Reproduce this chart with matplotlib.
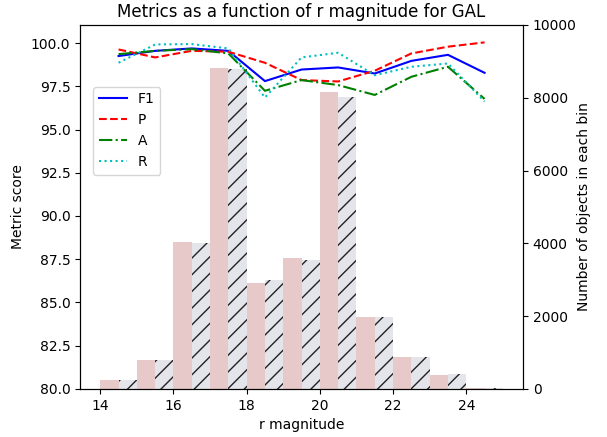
# metrics vs r magnitude, GAL
import numpy as np
import matplotlib
matplotlib.use('Agg')
from matplotlib import pyplot as plt

# bin centres and metric scores
mag = [14.5, 15.5, 16.5, 17.5, 18.5, 19.5, 20.5, 21.5, 22.5, 23.5, 24.5]
f1 = [99.25, 99.55, 99.69, 99.55, 97.8, 98.47, 98.59, 98.24, 98.97, 99.32, 98.28]
prec = [99.63, 99.17, 99.55, 99.5, 98.86, 97.86, 97.78, 98.4, 99.4, 99.79, 100.04]
acc = [99.36, 99.55, 99.65, 99.4, 97.24, 97.86, 97.57, 97.0, 98.05, 98.63, 96.77]
rec = [98.86, 99.92, 99.94, 99.69, 96.85, 99.17, 99.44, 98.14, 98.63, 98.82, 96.62]

# counts per bin (left half / right half of each bin)
bin_left = [14, 15, 16, 17, 18, 19, 20, 21, 22, 23, 24]
count_a = [250, 800, 4030, 8825, 2910, 3590, 8155, 1975, 880, 385, 30]
count_b = [250, 800, 4000, 8800, 2995, 3545, 8015, 1975, 880, 410, 20]

fig = plt.figure(figsize=(6.07, 4.37), dpi=100)
ax1 = fig.add_subplot(111)
fig.subplots_adjust(left=0.132, right=0.8616, bottom=0.11, top=0.943)
ax2 = ax1.twinx()

x = np.array(bin_left)
ax2.bar(x, count_a, width=0.5, align='edge', color='brown', alpha=0.25, linewidth=0)
ax2.bar(x + 0.5, count_b, width=0.5, align='edge', color='#e4e4eb', edgecolor='#222222',
        hatch='//', linewidth=0)
ax2.set_ylim(0, 10000)
ax2.set_ylabel('Number of objects in each bin', labelpad=0)

ax1.plot(mag, f1, 'b-', label='F1')
ax1.plot(mag, prec, 'r--', label='P')
ax1.plot(mag, acc, 'g-.', label='A')
ax1.plot(mag, rec, 'c:', label='R')
ax1.set_ylim(80, 101.05)
ax1.set_xlim(13.45, 25.55)
ax1.set_xticks([14, 16, 18, 20, 22, 24])
ax1.set_xlabel('r magnitude')
ax1.set_ylabel('Metric score')
ax1.set_title('Metrics as a function of r magnitude for GAL')
ax1.set_zorder(ax2.get_zorder() + 1)
ax1.patch.set_visible(False)
ax1.legend(loc='upper left', bbox_to_anchor=(0.03, 0.83), borderaxespad=0)

plt.savefig('out.png', dpi=100)
